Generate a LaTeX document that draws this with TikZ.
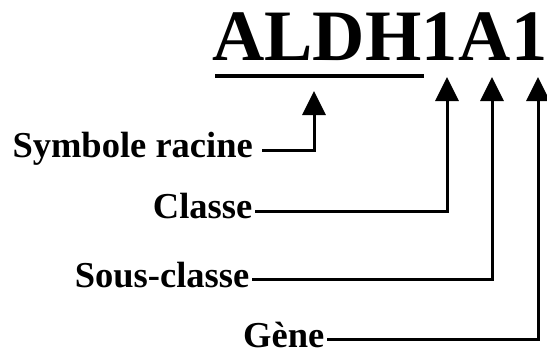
\documentclass[tikz,border=0pt]{standalone}
\usepackage{fontspec}
\setmainfont{Liberation Serif}
\usetikzlibrary{arrows.meta}

\begin{document}
\begin{tikzpicture}[
    x=1pt, y=-1pt,
    title/.style={anchor=base west, inner sep=0pt, font=\fontsize{72.4}{80}\selectfont\bfseries},
    lbl/.style={anchor=base east, inner xsep=2.5pt, inner ysep=0pt, font=\fontsize{36.5}{40}\selectfont\bfseries},
    link/.style={line width=3pt, -{Triangle[width=23pt,length=24pt]}}
]
    \useasboundingbox (0,0) rectangle (547,354);

    % Gene name
    \node[title] (root) at (212,60) {ALDH};
    \node[title] (cls) at (root.base east) {1};
    \node[title] (sub) at (cls.base east) {A};
    \node[title] (gene) at (sub.base east) {1};
    \draw[line width=4.5pt] ([xshift=3pt,yshift=-16pt]root.base west) -- ([xshift=2pt,yshift=-16pt]root.base east);

    % Arrow tips
    \coordinate (tiproot) at (314,91);
    \coordinate (tipcls) at (447,77);
    \coordinate (tipsub) at (492,77);
    \coordinate (tipgene) at (538,77);

    % Labels
    \node[lbl, inner xsep=9pt] (lblroot) at (262,157) {Symbole racine};
    \node[lbl] (lblcls) at (255,218) {Classe};
    \node[lbl] (lblsub) at (252,287) {Sous-classe};
    \node[lbl] (lblgene) at (327,347) {Gène};

    % Connections
    \draw[link] ([yshift=7pt]lblroot.base east) -| (tiproot);
    \draw[link] ([yshift=7pt]lblcls.base east) -| (tipcls);
    \draw[link] ([yshift=8pt]lblsub.base east) -| (tipsub);
    \draw[link] ([yshift=8pt]lblgene.base east) -| (tipgene);
\end{tikzpicture}
\end{document}
